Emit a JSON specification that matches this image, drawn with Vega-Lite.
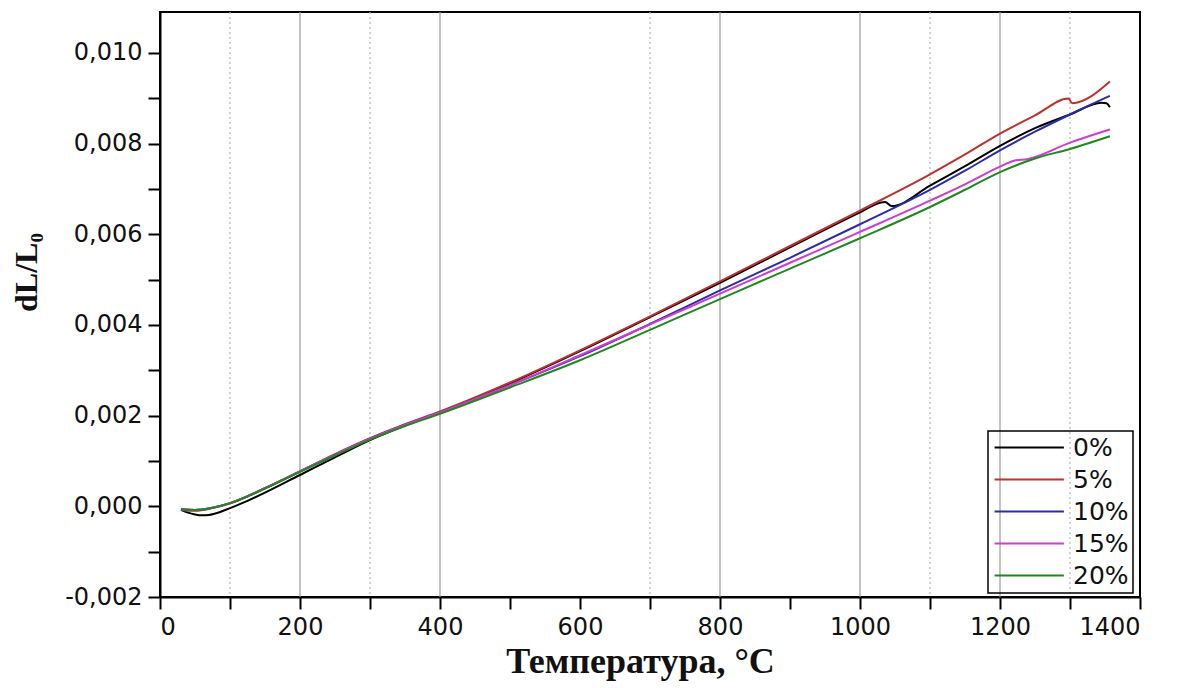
{
  "$schema": "https://vega.github.io/schema/vega-lite/v6.json",
  "width": 980,
  "height": 585,
  "autosize": {"type": "none"},
  "padding": {"left": 160, "top": 12, "right": 53, "bottom": 91},
  "background": "white",
  "config": {
    "view": {"stroke": "black", "strokeWidth": 2},
    "axis": {
      "labelFont": "DejaVu Sans",
      "labelFontSize": 24,
      "labelColor": "#111111",
      "titleFont": "Liberation Serif",
      "titleFontWeight": "bold",
      "titleColor": "#111111",
      "domainColor": "black",
      "domainWidth": 2,
      "tickColor": "black",
      "tickWidth": 2,
      "tickSize": 12,
      "grid": false
    },
    "legend": {
      "strokeColor": "black",
      "strokeWidth": 1.5,
      "padding": 4,
      "labelFont": "DejaVu Sans",
      "labelFontSize": 25,
      "labelColor": "#111111"
    }
  },
  "encoding": {
    "x": {
      "field": "T",
      "type": "quantitative",
      "scale": {"domain": [0, 1400], "nice": false, "zero": false},
      "axis": {
        "title": "Температура, °C",
        "titleFontSize": 36,
        "titleX": 480,
        "titleY": 64,
        "titleBaseline": "middle",
        "titleAnchor": "start",
        "titleAlign": "center",
        "values": [0, 100, 200, 300, 400, 500, 600, 700, 800, 900, 1000, 1100, 1200, 1300, 1400],
        "format": "d",
        "labelExpr": "datum.value % 200 == 0 ? datum.label : ''",
        "labelPadding": 6
      }
    }
  },
  "layer": [
    {
      "data": {"values": [{"T": 200}, {"T": 400}, {"T": 800}, {"T": 1000}, {"T": 1200}]},
      "mark": {"type": "rule", "color": "#999999", "strokeWidth": 1.2}
    },
    {
      "data": {"values": [{"T": 100}, {"T": 300}, {"T": 700}, {"T": 1100}, {"T": 1300}]},
      "mark": {"type": "rule", "color": "#b5b5b5", "strokeWidth": 1.2, "strokeDash": [2, 3]}
    },
    {
      "data": {"values": [
        {"s": "0%", "T": 30, "v": -0.00008},
        {"s": "0%", "T": 40, "v": -0.00014},
        {"s": "0%", "T": 50, "v": -0.00018},
        {"s": "0%", "T": 60, "v": -0.00020},
        {"s": "0%", "T": 70, "v": -0.00019},
        {"s": "0%", "T": 85, "v": -0.00013},
        {"s": "0%", "T": 100, "v": -0.00004},
        {"s": "0%", "T": 125, "v": 0.00012},
        {"s": "0%", "T": 150, "v": 0.00030},
        {"s": "0%", "T": 200, "v": 0.00069},
        {"s": "0%", "T": 250, "v": 0.00108},
        {"s": "0%", "T": 300, "v": 0.00146},
        {"s": "0%", "T": 350, "v": 0.00178},
        {"s": "0%", "T": 400, "v": 0.00207},
        {"s": "0%", "T": 500, "v": 0.00271},
        {"s": "0%", "T": 600, "v": 0.00342},
        {"s": "0%", "T": 700, "v": 0.00417},
        {"s": "0%", "T": 800, "v": 0.00493},
        {"s": "0%", "T": 900, "v": 0.00571},
        {"s": "0%", "T": 1000, "v": 0.00648},
        {"s": "0%", "T": 1030, "v": 0.00670},
        {"s": "0%", "T": 1036, "v": 0.00671},
        {"s": "0%", "T": 1045, "v": 0.00662},
        {"s": "0%", "T": 1100, "v": 0.00707},
        {"s": "0%", "T": 1150, "v": 0.00750},
        {"s": "0%", "T": 1200, "v": 0.00795},
        {"s": "0%", "T": 1250, "v": 0.00834},
        {"s": "0%", "T": 1300, "v": 0.00864},
        {"s": "0%", "T": 1345, "v": 0.00890},
        {"s": "0%", "T": 1352, "v": 0.00889},
        {"s": "0%", "T": 1357, "v": 0.00880},

        {"s": "5%", "T": 30, "v": -0.00008},
        {"s": "5%", "T": 50, "v": -0.00010},
        {"s": "5%", "T": 75, "v": -0.00004},
        {"s": "5%", "T": 100, "v": 0.00006},
        {"s": "5%", "T": 150, "v": 0.00040},
        {"s": "5%", "T": 200, "v": 0.00077},
        {"s": "5%", "T": 250, "v": 0.00115},
        {"s": "5%", "T": 300, "v": 0.00150},
        {"s": "5%", "T": 350, "v": 0.00181},
        {"s": "5%", "T": 400, "v": 0.00209},
        {"s": "5%", "T": 500, "v": 0.00273},
        {"s": "5%", "T": 600, "v": 0.00344},
        {"s": "5%", "T": 700, "v": 0.00419},
        {"s": "5%", "T": 800, "v": 0.00496},
        {"s": "5%", "T": 900, "v": 0.00574},
        {"s": "5%", "T": 1000, "v": 0.00652},
        {"s": "5%", "T": 1100, "v": 0.00732},
        {"s": "5%", "T": 1150, "v": 0.00776},
        {"s": "5%", "T": 1200, "v": 0.00822},
        {"s": "5%", "T": 1250, "v": 0.00862},
        {"s": "5%", "T": 1298, "v": 0.00899},
        {"s": "5%", "T": 1303, "v": 0.00889},
        {"s": "5%", "T": 1357, "v": 0.00937},

        {"s": "10%", "T": 30, "v": -0.00006},
        {"s": "10%", "T": 50, "v": -0.00008},
        {"s": "10%", "T": 75, "v": -0.00003},
        {"s": "10%", "T": 100, "v": 0.00007},
        {"s": "10%", "T": 150, "v": 0.00040},
        {"s": "10%", "T": 200, "v": 0.00077},
        {"s": "10%", "T": 250, "v": 0.00114},
        {"s": "10%", "T": 300, "v": 0.00149},
        {"s": "10%", "T": 350, "v": 0.00180},
        {"s": "10%", "T": 400, "v": 0.00207},
        {"s": "10%", "T": 500, "v": 0.00267},
        {"s": "10%", "T": 600, "v": 0.00331},
        {"s": "10%", "T": 700, "v": 0.00402},
        {"s": "10%", "T": 800, "v": 0.00476},
        {"s": "10%", "T": 900, "v": 0.00548},
        {"s": "10%", "T": 1000, "v": 0.00622},
        {"s": "10%", "T": 1100, "v": 0.00698},
        {"s": "10%", "T": 1150, "v": 0.00740},
        {"s": "10%", "T": 1200, "v": 0.00785},
        {"s": "10%", "T": 1250, "v": 0.00826},
        {"s": "10%", "T": 1300, "v": 0.00864},
        {"s": "10%", "T": 1357, "v": 0.00905},

        {"s": "15%", "T": 30, "v": -0.00006},
        {"s": "15%", "T": 50, "v": -0.00008},
        {"s": "15%", "T": 75, "v": -0.00003},
        {"s": "15%", "T": 100, "v": 0.00007},
        {"s": "15%", "T": 150, "v": 0.00040},
        {"s": "15%", "T": 200, "v": 0.00077},
        {"s": "15%", "T": 250, "v": 0.00114},
        {"s": "15%", "T": 300, "v": 0.00149},
        {"s": "15%", "T": 350, "v": 0.00180},
        {"s": "15%", "T": 400, "v": 0.00207},
        {"s": "15%", "T": 500, "v": 0.00267},
        {"s": "15%", "T": 600, "v": 0.00333},
        {"s": "15%", "T": 700, "v": 0.00401},
        {"s": "15%", "T": 800, "v": 0.00469},
        {"s": "15%", "T": 900, "v": 0.00537},
        {"s": "15%", "T": 1000, "v": 0.00605},
        {"s": "15%", "T": 1100, "v": 0.00674},
        {"s": "15%", "T": 1150, "v": 0.00710},
        {"s": "15%", "T": 1200, "v": 0.00749},
        {"s": "15%", "T": 1220, "v": 0.00762},
        {"s": "15%", "T": 1240, "v": 0.00766},
        {"s": "15%", "T": 1300, "v": 0.00802},
        {"s": "15%", "T": 1357, "v": 0.00831},

        {"s": "20%", "T": 30, "v": -0.00006},
        {"s": "20%", "T": 50, "v": -0.00008},
        {"s": "20%", "T": 75, "v": -0.00003},
        {"s": "20%", "T": 100, "v": 0.00007},
        {"s": "20%", "T": 150, "v": 0.00039},
        {"s": "20%", "T": 200, "v": 0.00076},
        {"s": "20%", "T": 250, "v": 0.00112},
        {"s": "20%", "T": 300, "v": 0.00147},
        {"s": "20%", "T": 350, "v": 0.00177},
        {"s": "20%", "T": 400, "v": 0.00204},
        {"s": "20%", "T": 500, "v": 0.00262},
        {"s": "20%", "T": 600, "v": 0.00322},
        {"s": "20%", "T": 700, "v": 0.00389},
        {"s": "20%", "T": 800, "v": 0.00457},
        {"s": "20%", "T": 900, "v": 0.00524},
        {"s": "20%", "T": 1000, "v": 0.00591},
        {"s": "20%", "T": 1100, "v": 0.00660},
        {"s": "20%", "T": 1150, "v": 0.00698},
        {"s": "20%", "T": 1200, "v": 0.00737},
        {"s": "20%", "T": 1250, "v": 0.00767},
        {"s": "20%", "T": 1300, "v": 0.00788},
        {"s": "20%", "T": 1357, "v": 0.00816}
      ]},
      "mark": {"type": "line", "strokeWidth": 2, "interpolate": "monotone"},
      "encoding": {
        "y": {
          "field": "v",
          "type": "quantitative",
          "scale": {"domain": [-0.002, 0.0109], "nice": false, "zero": false},
          "axis": {
            "title": "dL/L₀",
            "titleFontSize": 32,
            "titleAngle": 270,
            "titleX": -134,
            "titleY": 260,
            "titleAlign": "center",
            "titleBaseline": "middle",
            "values": [-0.002, -0.001, 0, 0.001, 0.002, 0.003, 0.004, 0.005, 0.006, 0.007, 0.008, 0.009, 0.010],
            "labelExpr": "abs(round(datum.value * 1000)) % 2 == 0 ? (datum.value < -0.0000001 ? '-' : '') + replace(format(abs(datum.value), '.3f'), '.', ',') : ''",
            "labelPadding": 6
          }
        },
        "color": {
          "field": "s",
          "type": "nominal",
          "scale": {
            "domain": ["0%", "5%", "10%", "15%", "20%"],
            "range": ["#000000", "#c0302c", "#2c2ca8", "#d03cd0", "#1e8a1e"]
          },
          "legend": {
            "title": null,
            "orient": "none",
            "legendX": 828,
            "legendY": 419,
            "symbolType": "M-1.1,0H6.6",
            "symbolSize": 324,
            "symbolStrokeWidth": 2,
            "labelOffset": 56,
            "rowPadding": 6
          }
        },
        "order": {"field": "T", "type": "quantitative"}
      }
    }
  ]
}
